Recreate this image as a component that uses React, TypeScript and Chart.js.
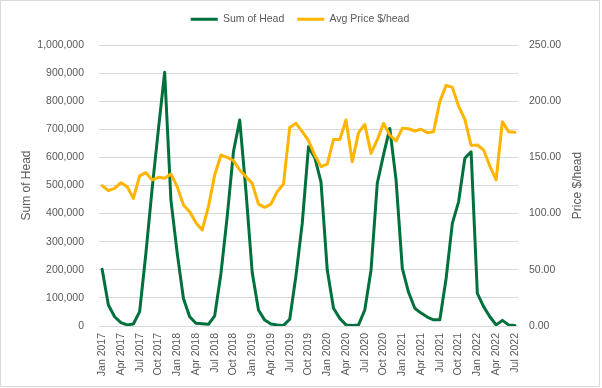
import React, { useEffect, useRef } from "react";
import { Chart, registerables } from "chart.js";

Chart.register(...registerables);

const MONTHS = ["Jan", "Feb", "Mar", "Apr", "May", "Jun", "Jul", "Aug", "Sep", "Oct", "Nov", "Dec"];
const YEARS = [2017, 2018, 2019, 2020, 2021, 2022];
const MONTH_COUNT = 67; // Jan 2017 .. Jul 2022

const CATEGORIES: string[] = [];
for (const y of YEARS) for (const m of MONTHS) if (CATEGORIES.length < MONTH_COUNT) CATEGORIES.push(`${m} ${y}`);

const SUM_OF_HEAD = [
  202000, 75000, 33000, 12000, 4000, 7000, 51000, 259000, 490000, 700000, 903000, 448000,
  260000, 98000, 33000, 10000, 8000, 6000, 36000, 187000, 389000, 620000, 733000, 480000,
  190000, 57000, 21000, 7000, 4000, 2000, 24000, 180000, 365000, 638000, 600000, 512000,
  199000, 63000, 27000, 4000, 2000, 4000, 57000, 199000, 508000, 610000, 703000, 520000,
  205000, 120000, 63000, 46000, 32000, 22000, 22000, 168000, 365000, 442000, 597000, 620000,
  116000, 69000, 33000, 4000, 20000, 4000, 2000,
];

const AVG_PRICE = [
  124.9, 120.4, 122.5, 127.5, 124.0, 113.6, 133.5, 136.4, 129.9, 132.3, 131.4, 135.2,
  124.0, 107.7, 101.7, 91.9, 85.4, 106.2, 134.3, 152.1, 150.0, 147.1, 138.8, 132.9,
  126.9, 108.5, 105.6, 108.5, 119.5, 126.3, 176.7, 180.3, 172.9, 165.0, 152.0, 141.8,
  144.1, 166.0, 166.0, 183.3, 146.2, 172.0, 179.4, 153.6, 165.5, 180.3, 169.9, 164.6,
  175.9, 175.5, 173.5, 175.0, 172.0, 172.9, 199.6, 214.1, 212.3, 195.7, 183.9, 160.7,
  161.0, 156.6, 142.3, 129.9, 181.8, 172.9, 172.3,
];

const SERIES_NAMES = ["Sum of Head", "Avg Price $/head"];
const LEFT_TITLE = "Sum of Head";
const RIGHT_TITLE = "Price $/head";
const LEFT_MAX = 1000000;
const LEFT_STEP = 100000;
const RIGHT_MAX = 250;
const RIGHT_STEP = 50;

const GREEN = "#00703C";
const GOLD = "#FFB400";
const TEXT = "#595959";
const GRID = "#D9D9D9";
const FONT = "'Liberation Sans', Arial, sans-serif";

const legendHeightPlugin = {
  id: "legendHeight",
  beforeLayout(chart: any) {
    const legend = chart.legend;
    if (legend && !legend.__patched) {
      const orig = legend.fit;
      legend.fit = function () {
        orig.call(this);
        this.height = 44;
      };
      legend.__patched = true;
    }
  },
};

const rightTitlePlugin = {
  id: "rightTitle",
  afterDraw(chart: any) {
    const { ctx, chartArea } = chart;
    ctx.save();
    ctx.translate(chartArea.right + 60, (chartArea.top + chartArea.bottom) / 2);
    ctx.rotate(-Math.PI / 2);
    ctx.font = `12px ${FONT}`;
    ctx.fillStyle = TEXT;
    ctx.textAlign = "center";
    ctx.textBaseline = "middle";
    ctx.fillText(RIGHT_TITLE, 0, 0);
    ctx.restore();
  },
};

export default function App() {
  const ref = useRef<HTMLCanvasElement | null>(null);

  useEffect(() => {
    if (!ref.current) return;
    Chart.defaults.font.family = FONT;
    Chart.defaults.color = TEXT;
    const chart = new Chart(ref.current, {
      type: "line",
      data: {
        labels: CATEGORIES,
        datasets: [
          {
            label: SERIES_NAMES[0],
            data: SUM_OF_HEAD,
            borderColor: GREEN,
            backgroundColor: GREEN,
            borderWidth: 3,
            pointRadius: 0,
            tension: 0,
            yAxisID: "y",
            order: 2,
            borderJoinStyle: "round",
            borderCapStyle: "round",
          },
          {
            label: SERIES_NAMES[1],
            data: AVG_PRICE,
            borderColor: GOLD,
            backgroundColor: GOLD,
            borderWidth: 3,
            pointRadius: 0,
            tension: 0,
            yAxisID: "y1",
            order: 1,
            borderJoinStyle: "round",
            borderCapStyle: "round",
          },
        ],
      },
      options: {
        animation: false,
        responsive: false,
        layout: { padding: 0 },
        plugins: {
          tooltip: { enabled: false },
          legend: {
            position: "top",
            labels: {
              usePointStyle: true,
              pointStyle: "line",
              pointStyleWidth: 27,
              padding: 13,
              font: { size: 10.5, family: FONT },
              color: TEXT,
              sort: (a: any, b: any) => a.datasetIndex - b.datasetIndex,
            },
          },
        },
        scales: {
          x: {
            type: "category",
            offset: true,
            grid: { display: false, drawTicks: false },
            border: { display: false },
            ticks: {
              autoSkip: false,
              minRotation: 90,
              maxRotation: 90,
              padding: 7,
              font: { size: 10.5 },
              color: TEXT,
              callback: (_v: any, i: number) => (i % 3 === 0 ? CATEGORIES[i] : ""),
            },
            afterFit: (s: any) => {
              s.height = 60;
            },
          },
          y: {
            position: "left",
            min: 0,
            max: LEFT_MAX,
            grid: { color: GRID, lineWidth: 1, drawTicks: false },
            border: { display: false },
            ticks: {
              stepSize: LEFT_STEP,
              padding: 15,
              font: { size: 10.5 },
              color: TEXT,
              callback: (v: any) => Number(v).toLocaleString("en-US"),
            },
            title: {
              display: true,
              text: LEFT_TITLE,
              color: TEXT,
              font: { size: 12 },
              padding: { top: 18, bottom: 0 },
            },
            afterFit: (s: any) => {
              s.width = 98;
            },
          },
          y1: {
            position: "right",
            min: 0,
            max: RIGHT_MAX,
            grid: { display: false, drawTicks: false },
            border: { display: false },
            ticks: {
              stepSize: RIGHT_STEP,
              padding: 11,
              font: { size: 10.5 },
              color: TEXT,
              callback: (v: any) => Number(v).toFixed(2),
            },
            afterFit: (s: any) => {
              s.width = 81;
            },
          },
        },
      },
      plugins: [legendHeightPlugin, rightTitlePlugin],
    } as any);
    return () => chart.destroy();
  }, []);

  return (
    <div
      style={{
        position: "absolute",
        left: 0,
        top: 0,
        width: 600,
        height: 387,
        boxSizing: "border-box",
        border: `1px solid ${GRID}`,
        background: "#fff",
      }}
    >
      <canvas ref={ref} width={598} height={385} style={{ display: "block" }} />
    </div>
  );
}
